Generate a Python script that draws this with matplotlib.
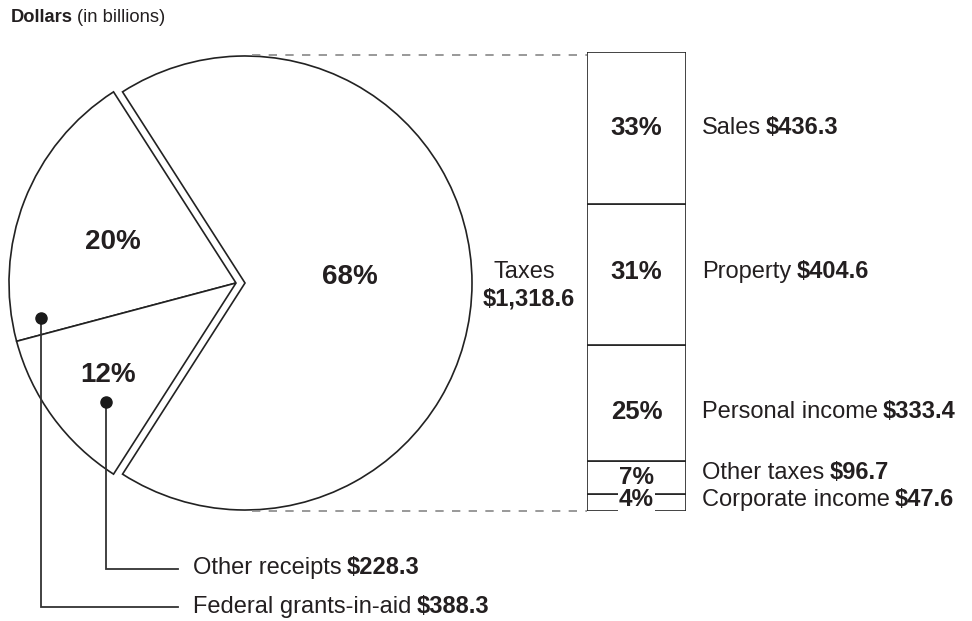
import matplotlib
matplotlib.use("Agg")
import matplotlib.pyplot as plt
import numpy as np

plt.rcParams['font.family'] = ['Liberation Sans', 'DejaVu Sans']
plt.rcParams['text.parse_math'] = False

# ---- data ----
pie_labels = ["Taxes", "Federal grants-in-aid", "Other receipts"]
pie_values = [1318.6, 388.3, 228.3]
pie_pcts = ["68%", "20%", "12%"]

tax_labels = ["Sales", "Property", "Personal income", "Other taxes", "Corporate income"]
tax_values = [436.3, 404.6, 333.4, 96.7, 47.6]
tax_pcts = ["33%", "31%", "25%", "7%", "4%"]

TXT = '#231f20'
W, H = 972, 621
fig = plt.figure(figsize=(W / 100, H / 100), dpi=100)
ax = fig.add_axes([0, 0, 1, 1])

def Y(y):
    return H - y

# ---- pie ----
total = sum(pie_values)
start = -pie_values[0] / total * 180.0
ax.pie(pie_values, explode=[9, 0, 0], startangle=start, counterclock=True,
       center=(236, Y(283)), radius=227, frame=True,
       wedgeprops=dict(facecolor='white', edgecolor='#222222', linewidth=1.2))
ax.set_xlim(0, W)
ax.set_ylim(0, H)
ax.set_aspect('auto')
ax.axis('off')

ax.text(350, Y(277), pie_pcts[0], fontsize=20, fontweight='bold', color=TXT, ha='center', va='center')
ax.text(113, Y(242), pie_pcts[1], fontsize=20, fontweight='bold', color=TXT, ha='center', va='center')
ax.text(108, Y(375), pie_pcts[2], fontsize=20, fontweight='bold', color=TXT, ha='center', va='center')

ax.text(524, Y(272), pie_labels[0], fontsize=17, color=TXT, ha='center', va='center')
ax.text(529, Y(299), "$" + f"{pie_values[0]:,.1f}", fontsize=17, fontweight='bold', color=TXT,
        ha='center', va='center')

def mixed(axis, x, y, normal, bold, size=17):
    t1 = axis.text(x, y, normal, fontsize=size, color=TXT, ha='left', va='center')
    axis.annotate(bold, xy=(1, 0), xycoords=t1, xytext=(5, 0), textcoords='offset pixels',
                  fontsize=size, fontweight='bold', color=TXT, ha='left', va='bottom')
    return t1

# title
t = ax.text(11, Y(17), "Dollars", fontsize=13.2, fontweight='bold', color=TXT, ha='left', va='center')
ax.annotate("(in billions)", xy=(1, 0), xycoords=t, xytext=(4, 0), textcoords='offset pixels',
            fontsize=13.2, color=TXT, ha='left', va='bottom')

# leader lines
lc = '#333333'
ax.plot([41, 41, 178], [Y(318), Y(607), Y(607)], color=lc, lw=1.3, solid_joinstyle='miter')
ax.plot([106, 106, 178], [Y(402), Y(569), Y(569)], color=lc, lw=1.3, solid_joinstyle='miter')
ax.plot([41, 106], [Y(318), Y(402)], 'o', color='#1a1a1a', ms=8, ls='none')
mixed(ax, 193, Y(568), pie_labels[2], "$" + f"{pie_values[2]:,.1f}")
mixed(ax, 193, Y(607), pie_labels[1], "$" + f"{pie_values[1]:,.1f}")

# dashed connectors
dc = '#888888'
ax.plot([252, 587], [Y(55), Y(55)], color=dc, lw=1.2, dashes=(5, 5))
ax.plot([252, 587], [Y(511), Y(511)], color=dc, lw=1.2, dashes=(5, 5))

# ---- stacked bar ----
bx0, bx1, by0, by1 = 587, 686, 52, 511
bax = fig.add_axes([bx0 / W, (H - by1) / H, (bx1 - bx0) / W, (by1 - by0) / H])
vals = tax_values[::-1]
bottoms = np.concatenate([[0], np.cumsum(vals)[:-1]])
bax.bar([0] * len(vals), vals, bottom=bottoms, width=1.0, color='white',
        edgecolor='#222222', linewidth=1.2)
bax.set_xlim(-0.5, 0.5)
bax.set_ylim(0, sum(vals))
bax.axis('off')

tops = np.cumsum(tax_values[::-1])[::-1]
mids = [tp - v / 2 for tp, v in zip(tops, tax_values)]
pct_dy = [0, 2, -9, 0, 3]
lab_dy = [0, 2, -9, 5, 3]
for i, (lab, v, p) in enumerate(zip(tax_labels, tax_values, tax_pcts)):
    kw = {}
    if i == 4:
        kw['bbox'] = dict(facecolor='white', edgecolor='none', pad=0.5)
    bax.annotate(p, xy=(0, mids[i]), xycoords='data', xytext=(0, pct_dy[i]),
                 textcoords='offset pixels', fontsize=18.5 if i < 3 else 17.5,
                 fontweight='bold', color=TXT, ha='center', va='center', zorder=5, **kw)
    t1 = bax.annotate(lab, xy=(1, mids[i]), xycoords=('axes fraction', 'data'),
                      xytext=(16, lab_dy[i]), textcoords='offset pixels', fontsize=17,
                      color=TXT, ha='left', va='center', annotation_clip=False)
    bax.annotate("$" + f"{v:,.1f}", xy=(1, 0), xycoords=t1, xytext=(5, 0),
                 textcoords='offset pixels', fontsize=17, fontweight='bold', color=TXT,
                 ha='left', va='bottom', annotation_clip=False)

fig.savefig("out.png", dpi=100, facecolor='white')
